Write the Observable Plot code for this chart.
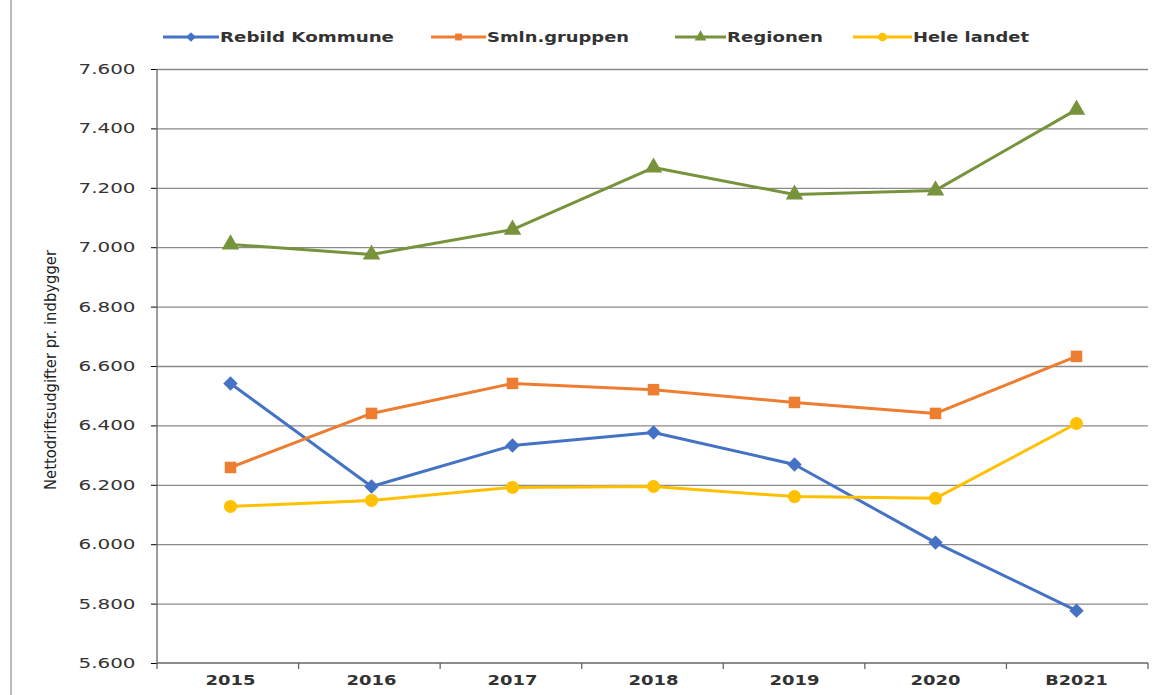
<!DOCTYPE html>
<html><head><meta charset="utf-8">
<script src="https://cdn.jsdelivr.net/npm/d3@7"></script>
<script src="https://cdn.jsdelivr.net/npm/@observablehq/plot@0.6"></script>
<style>
body{margin:0;background:#fff;}
#wrap{position:relative;width:1166px;height:695px;overflow:hidden;}
#legend{display:block;}
#border{position:absolute;left:10px;top:0;width:2px;height:695px;background:#bbb;}
</style></head>
<body><div id="wrap"><div id="border"></div><svg id="legend" width="1166" height="55"></svg><div id="chart"></div></div>
<script>
const years = ["2015","2016","2017","2018","2019","2020","B2021"];
const seriesNames = ["Rebild Kommune","Smln.gruppen","Regionen","Hele landet"];
const rebild = [6543,6196,6334,6378,6270,6007,5778];
const smln = [6260,6442,6543,6522,6479,6442,6634];
const regionen = [7011,6977,7061,7270,7179,7193,7465];
const heleLandet = [6129,6149,6193,6196,6162,6156,6408];
const yTicks = [5600,5800,6000,6200,6400,6600,6800,7000,7200,7400,7600];
const colors = ["#4472C4","#ED7D31","#77933C","#FFC000"];
const symbols = ["diamond2","square","triangle","circle"];

const allSeries = [rebild, smln, regionen, heleLandet];
const data = [];
allSeries.forEach((vals, si) => vals.forEach((v, i) => data.push({year: years[i], value: v, series: seriesNames[si]})));

const fmt = d => d3.format(",")(d).replace(/,/g, ".");

const chart = Plot.plot({
  width: 1166, height: 640,
  marginLeft: 157, marginRight: 18, marginTop: 14, marginBottom: 32,
  style: {fontFamily: "'DejaVu Sans', sans-serif", background: "transparent"},
  x: {type: "point", domain: years, padding: 0.5, label: null},
  y: {domain: [5600, 7600], ticks: yTicks, label: null},
  color: {domain: seriesNames, range: colors},
  symbol: {domain: seriesNames, range: symbols},
  marks: [
    Plot.ruleY(yTicks.slice(1), {stroke: "#8a8a8a", strokeWidth: 1.3}),
    Plot.axisY({ticks: yTicks, tickFormat: fmt, tickSize: 6, tickPadding: 16, fontSize: 14, fill: "#333", label: null}),
    Plot.axisX({tickSize: 0, tickPadding: 12, fontSize: 14, fontWeight: "bold", fill: "#333", label: null}),
    Plot.line(data, {x: "year", y: "value", z: "series", stroke: "series", strokeWidth: 3}),
    Plot.dot(data, {x: "year", y: "value", fill: "series", symbol: "series", r: 6.5, stroke: "none"})
  ]
});
document.getElementById("chart").appendChild(chart);

const svg = d3.select(chart);
svg.selectAll('g[aria-label="y-axis tick label"] text').each(function() {
  const t = d3.select(this); t.attr("textLength", 57).attr("lengthAdjust", "spacingAndGlyphs");
});
svg.selectAll('g[aria-label="x-axis tick label"] text').each(function() {
  const t = d3.select(this); t.attr("textLength", 12.5 * t.text().length).attr("lengthAdjust", "spacingAndGlyphs");
});

const xs = chart.scale("x"), ys = chart.scale("y");
const x0 = xs.range[0], x1 = xs.range[1];
const yTop = ys.apply(7600), yBot = ys.apply(5600);
const g = svg.append("g").attr("stroke", "#666").attr("stroke-width", 1.3);
g.append("line").attr("x1", x0).attr("x2", x0).attr("y1", yTop).attr("y2", yBot);
g.append("line").attr("x1", x0).attr("x2", x1).attr("y1", yBot).attr("y2", yBot);
const step = (x1 - x0) / years.length;
for (let i = 0; i <= years.length; i++) {
  g.append("line").attr("x1", x0 + i * step).attr("x2", x0 + i * step).attr("y1", yBot).attr("y2", yBot + 6);
}
svg.append("text").attr("transform", `translate(56,${(yTop + yBot) / 2 + 4}) rotate(-90)`)
  .attr("text-anchor", "middle").attr("font-family", "'Liberation Sans Narrow','DejaVu Sans Condensed',sans-serif")
  .attr("font-size", 16).attr("fill", "#222").attr("textLength", 240).attr("lengthAdjust", "spacingAndGlyphs")
  .text("Nettodriftsudgifter pr. indbygger");

const legLine = [[163, 219], [431, 486], [675, 726], [853, 912]];
const legTextLen = [174, 142, 96, 116];
const symMap = {diamond2: d3.symbolDiamond2, square: d3.symbolSquare2 || d3.symbolSquare, triangle: d3.symbolTriangle, circle: d3.symbolCircle};
const leg = d3.select("#legend");
seriesNames.forEach((name, i) => {
  const [a, b] = legLine[i];
  const cy = 37;
  leg.append("line").attr("x1", a).attr("x2", b).attr("y1", cy).attr("y2", cy).attr("stroke", colors[i]).attr("stroke-width", 3);
  leg.append("path").attr("transform", `translate(${(a + b) / 2},${cy})`).attr("d", d3.symbol(symMap[symbols[i]], 60)()).attr("fill", colors[i]);
  leg.append("text").attr("x", b + 1).attr("y", cy + 5).attr("font-family", "'DejaVu Sans', sans-serif")
    .attr("font-size", 14).attr("font-weight", "bold").attr("fill", "#333")
    .attr("textLength", legTextLen[i]).attr("lengthAdjust", "spacingAndGlyphs").text(name);
});
</script></body></html>
